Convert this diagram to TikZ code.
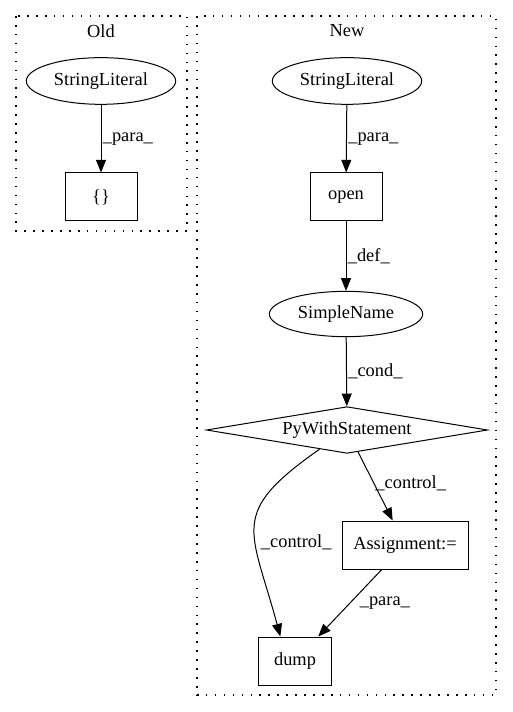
\documentclass[tikz,border=0pt]{standalone}
\usepackage{fontspec}
\setmainfont{Liberation Serif}
\usetikzlibrary{shapes.geometric,arrows.meta}

\begin{document}
\begin{tikzpicture}[x=0.75pt,y=-0.75pt,line width=0.75pt,font=\fontsize{13.8}{16}\selectfont]
\tikzstyle{cluster}=[draw,line width=1pt,dash pattern=on 1.2pt off 5.5pt]
\tikzstyle{ellip}=[ellipse,draw,minimum width=112pt,minimum height=35pt,inner sep=0pt]
\tikzstyle{recti}=[rectangle,draw,minimum height=36pt,inner sep=0pt]
\tikzstyle{edge}=[-{Triangle[length=9.5pt,width=7.5pt]}]
\tikzstyle{lbl}=[anchor=west,inner sep=1pt]
\useasboundingbox (0,0) rectangle (512,712);
\draw [cluster] (16,16) rectangle (187,231);
\draw [cluster] (197,16) rectangle (496,695);
\node (oldtitle) at (101,31) {Old};
\node (newtitle) at (347,31) {New};
\node [ellip] (oldlit) at (101,81) {StringLiteral};
\node [recti,minimum width=54pt] (oldbrace) at (101,197) {\{\}};
\node [ellip] (newlit) at (347,81) {StringLiteral};
\node [recti,minimum width=54pt] (open) at (346,197) {open};
\node [ellip,minimum width=115pt,minimum height=34pt] (simplename) at (346,314) {SimpleName};
\node [diamond,draw,shape aspect=6,minimum width=211pt,minimum height=35pt,inner sep=0pt] (pywith) at (347,430) {PyWithStatement};
\node [recti,minimum width=94.5pt] (assign) at (405,545) {Assignment:=};
\node [recti,minimum width=55pt] (dump) at (295,661) {dump};
\draw [edge] (oldlit) -- node[lbl] {\_para\_} (oldbrace);
\draw [edge] (newlit) -- node[lbl] {\_para\_} (open);
\draw [edge] (open) -- node[lbl] {\_def\_} (simplename);
\draw [edge] (simplename) -- node[lbl] {\_cond\_} (pywith);
\draw [edge] (pywith) -- node[lbl,pos=0.45] {\_control\_} (assign);
\draw [edge] (pywith) to[out=215,in=105,looseness=1.5] node[lbl,pos=0.6,xshift=3pt] {\_control\_} ([xshift=-11pt]dump.north);
\draw [edge] (assign) -- node[lbl,xshift=6pt] {\_para\_} (dump);
\end{tikzpicture}
\end{document}
